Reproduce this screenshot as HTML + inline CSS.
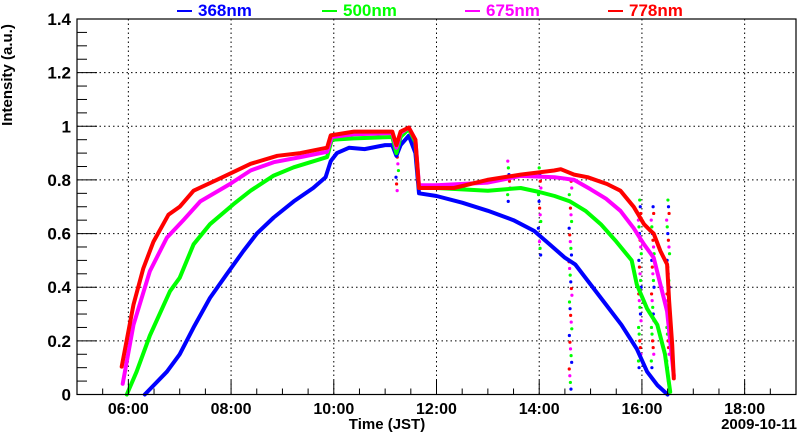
<!DOCTYPE html>
<html><head><meta charset="utf-8"><style>
body{margin:0;background:#fff;width:800px;height:434px;overflow:hidden}
svg{display:block;font-family:"Liberation Sans",sans-serif;font-weight:bold}
</style></head><body>
<svg id="chart" width="800" height="434" viewBox="0 0 800 434" xmlns="http://www.w3.org/2000/svg">
<g id="grid"></g>
<g id="series"></g>
<g id="axes"></g>
<text x="12" y="75" transform="rotate(-90 12 75)" text-anchor="middle" font-size="15">Intensity (a.u.)</text>
<text x="387" y="429" text-anchor="middle" font-size="15">Time (JST)</text>
<text x="797" y="429" text-anchor="end" font-size="15">2009-10-11</text>
<g id="legend"></g>
</svg>
<script>
const seriesNames = ["368nm","500nm","675nm","778nm"];
const seriesColors = ["#0000ff","#00ff00","#ff00ff","#ff0000"];
const yTicks = [0,0.2,0.4,0.6,0.8,1,1.2,1.4];
const yTickLabels = ["0","0.2","0.4","0.6","0.8","1","1.2","1.4"];
const xTicks = [6,8,10,12,14,16,18];
const xTickLabels = ["06:00","08:00","10:00","12:00","14:00","16:00","18:00"];
const blueT = [6.32,6.75,7.0,7.27,7.59,7.92,8.24,8.5,8.83,9.22,9.6,9.84,9.94,10.06,10.3,10.6,11.0,11.14,11.22,11.3,11.46,11.59,11.66,12.0,12.5,13.0,13.5,13.9,14.2,14.5,14.7,15.0,15.3,15.6,15.9,16.1,16.3,16.5];
const blueV = [0,0.085,0.15,0.25,0.36,0.45,0.535,0.6,0.66,0.72,0.77,0.81,0.87,0.9,0.92,0.915,0.93,0.93,0.89,0.93,0.965,0.9,0.75,0.74,0.715,0.685,0.65,0.61,0.56,0.51,0.485,0.41,0.335,0.26,0.17,0.085,0.035,0];
const greenT = [5.97,6.16,6.42,6.81,7.0,7.27,7.59,8.05,8.38,8.83,9.22,9.87,9.96,10.39,11.14,11.22,11.3,11.46,11.59,11.66,12.0,13.0,13.64,14.0,14.3,14.6,14.9,15.2,15.5,15.8,15.9,16.1,16.3,16.45,16.55];
const greenV = [0,0.085,0.22,0.385,0.435,0.56,0.635,0.71,0.76,0.816,0.847,0.885,0.95,0.955,0.96,0.9,0.96,0.99,0.94,0.77,0.77,0.76,0.77,0.755,0.74,0.72,0.685,0.635,0.57,0.5,0.41,0.32,0.26,0.15,0.01];
const magentaT = [5.89,6.1,6.42,6.75,7.07,7.4,7.98,8.38,8.83,9.35,9.87,9.96,10.39,11.14,11.22,11.3,11.46,11.59,11.66,12.0,13.0,13.64,14.3,14.68,15.0,15.3,15.58,15.84,16.04,16.23,16.36,16.49,16.62];
const magentaV = [0.04,0.26,0.46,0.585,0.65,0.72,0.785,0.835,0.866,0.885,0.905,0.96,0.97,0.975,0.92,0.975,0.995,0.95,0.78,0.78,0.79,0.815,0.81,0.8,0.765,0.73,0.685,0.62,0.56,0.51,0.41,0.31,0.07];
const redT = [5.87,6.1,6.29,6.49,6.78,7.0,7.27,7.72,8.05,8.38,8.9,9.35,9.87,9.94,10.39,11.14,11.22,11.3,11.46,11.59,11.66,12.0,12.34,12.99,13.64,14.29,14.42,14.68,14.94,15.32,15.58,15.84,16.04,16.17,16.23,16.36,16.49,16.53,16.59,16.62];
const redV = [0.104,0.335,0.47,0.57,0.67,0.7,0.76,0.8,0.83,0.86,0.89,0.9,0.92,0.966,0.98,0.98,0.93,0.98,0.995,0.95,0.77,0.77,0.77,0.8,0.82,0.835,0.84,0.82,0.81,0.785,0.76,0.7,0.635,0.61,0.6,0.535,0.485,0.35,0.185,0.06];
const dropT = [11.22,13.4,14.0,14.6,15.95,16.2,16.5];
const dropLow = [0.76,0.72,0.52,0.02,0.1,0.1,0.05];
const dropHigh = [0.95,0.88,0.86,0.82,0.74,0.72,0.75];

const L=77,R=796,T=19,B=394.5,X0=5,X1=19,Y0=0,Y1=1.4;
const xs=t=>L+(t-X0)/(X1-X0)*(R-L);
const ys=v=>B-(v-Y0)/(Y1-Y0)*(B-T);
const NS="http://www.w3.org/2000/svg";
function mk(tag,attrs,parent){const e=document.createElementNS(NS,tag);for(const k in attrs)e.setAttribute(k,attrs[k]);parent.appendChild(e);return e;}
const grid=document.getElementById('grid'),axes=document.getElementById('axes'),ser=document.getElementById('series'),leg=document.getElementById('legend');
yTicks.forEach((v,i)=>{
  if(v>0&&v<1.4){const g=mk('line',{x1:L,x2:R,y1:ys(v),y2:ys(v),stroke:'#000','stroke-width':1,'stroke-dasharray':'1.5,3'},grid);
  
  }
  const t=mk('line',{x1:L,x2:L+20,y1:ys(v),y2:ys(v),stroke:'#000','stroke-width':1},axes);
  
  
  const lb=mk('text',{x:L-6,y:ys(v)+6,'text-anchor':'end','font-size':17},axes);lb.textContent=yTickLabels[i];
  
  
});
for(let v=0.05;v<1.4;v+=0.05){ if(Math.abs(v*5-Math.round(v*5))<1e-6)continue;
  const t=mk('line',{x1:L,x2:L+10,y1:ys(v),y2:ys(v),stroke:'#000','stroke-width':1},axes);
  
  }
xTicks.forEach((h,i)=>{
  const g=mk('line',{x1:xs(h),x2:xs(h),y1:T,y2:B,stroke:'#000','stroke-width':1,'stroke-dasharray':'1.5,3'},grid);
  
  
  const lb=mk('text',{x:xs(h),y:414,'text-anchor':'middle','font-size':16},axes);lb.textContent=xTickLabels[i];
  
  
});
for(let h=5.5;h<19;h+=0.5){const major=Math.abs(h-Math.round(h))<1e-6&&Math.round(h)%2===0;
  const t=mk('line',{x1:xs(h),x2:xs(h),y1:B,y2:B-(major?14:6),stroke:'#000','stroke-width':1},axes);
  
  }
const frame=mk('rect',{x:L,y:T,width:R-L,height:B-T,fill:'none',stroke:'#000','stroke-width':1.2},axes);


const data=[[blueT,blueV],[greenT,greenV],[magentaT,magentaV],[redT,redV]];
// dropouts (drawn beneath lines)
dropT.forEach((t,i)=>{for(let v=dropLow[i];v<=dropHigh[i];v+=0.025){
  const c=mk('circle',{cx:xs(t)+((v*97)%3-1),cy:ys(v),r:1.6,fill:seriesColors[Math.floor(v*40)%4]},ser);
  
  }});
data.forEach((d,k)=>{
  const pts=d[0].map((t,i)=>xs(t).toFixed(1)+','+ys(d[1][i]).toFixed(1)).join(' ');
  const p=mk('polyline',{points:pts,fill:'none',stroke:seriesColors[k],'stroke-width':4,'stroke-linejoin':'round','stroke-linecap':'round'},ser);
  
  
});
const legX=[177,322,465,608];
seriesNames.forEach((n,k)=>{
  const l=mk('line',{x1:legX[k],x2:legX[k]+15,y1:11,y2:11,stroke:seriesColors[k],'stroke-width':2},leg);
  
  
  const t=mk('text',{x:legX[k]+21,y:16,'font-size':17,fill:seriesColors[k]},leg);t.textContent=n;
  
  
});
</script>
</body></html>
